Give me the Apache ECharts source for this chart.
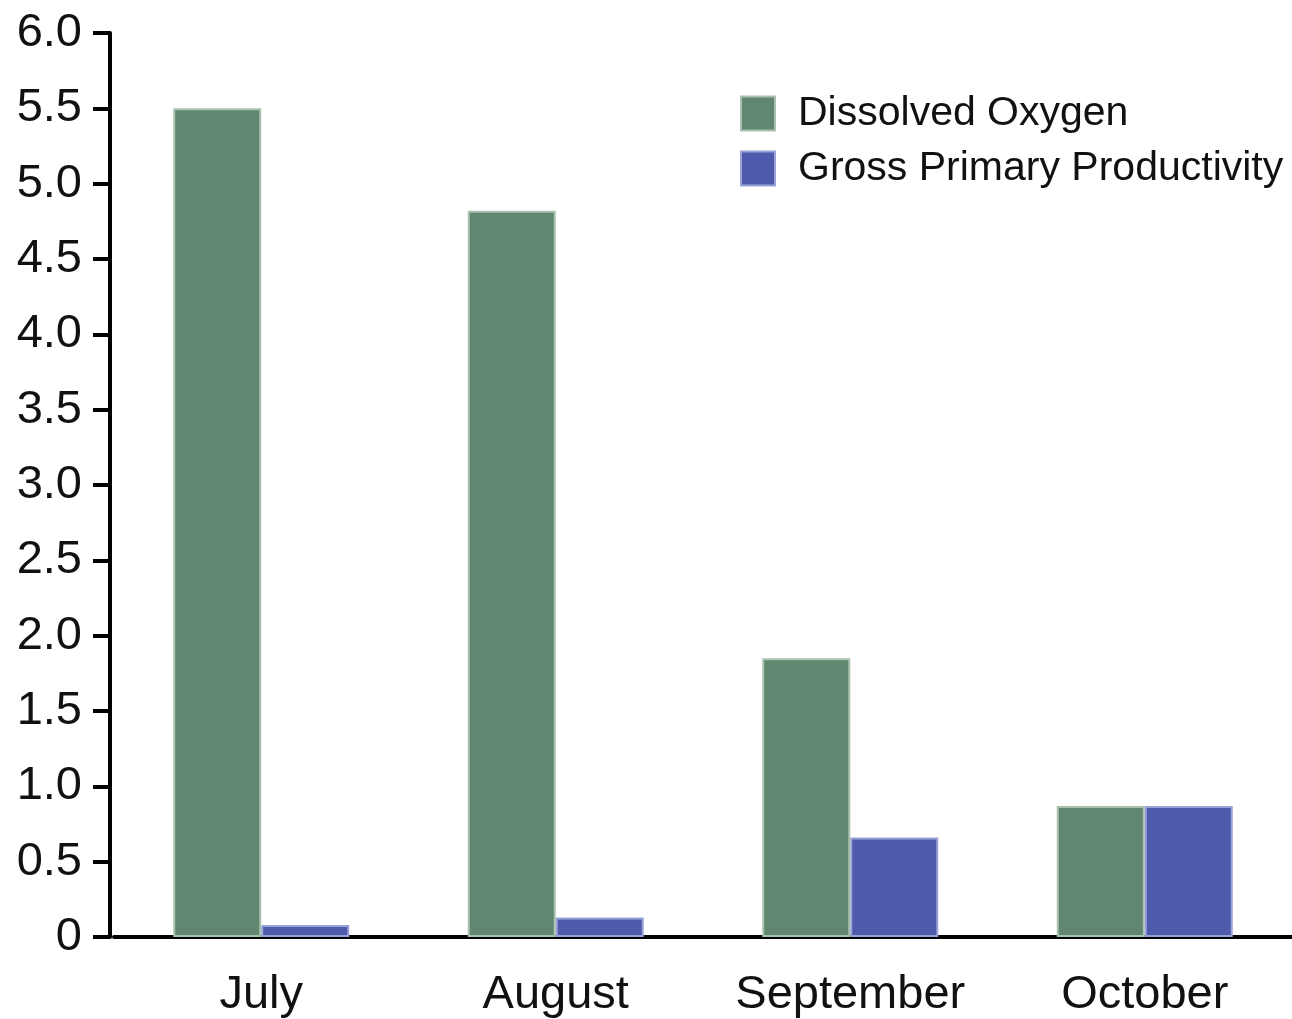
<!DOCTYPE html>
<html><head><meta charset="utf-8">
<script src="https://cdn.jsdelivr.net/npm/echarts@6/dist/echarts.min.js"></script>
<style>html,body{margin:0;padding:0;background:#fff}#c{width:1292px;height:1019px}</style>
</head><body><div id="c"></div>
<script>
const categories = ['July', 'August', 'September', 'October'];
const dissolvedOxygen = [5.5, 4.82, 1.85, 0.87];
const grossPrimaryProductivity = [0.08, 0.13, 0.66, 0.87];
const seriesNames = ['Dissolved Oxygen', 'Gross Primary Productivity'];

const chart = echarts.init(document.getElementById('c'));
const font = 'Liberation Sans, Arial, sans-serif';
chart.setOption({
  animation: false,
  backgroundColor: '#fff',
  grid: { left: 114, right: -2, top: 33, bottom: 81 },
  legend: {
    orient: 'vertical', left: 740, top: 93, padding: 0,
    icon: 'rect',
    itemWidth: 34, itemHeight: 34, itemGap: 14,
    textStyle: { fontFamily: font, fontSize: 41, color: '#111', padding: [0,0,0,18] },
    data: seriesNames
  },
  xAxis: {
    type: 'category', data: categories,
    axisLine: { lineStyle: { color: '#000', width: 4 } },
    axisTick: { interval: 0, length: 17, lineStyle: { color: '#000', width: 3 } },
    axisLabel: { interval: 0, fontFamily: font, fontSize: 47, color: '#111', margin: 35 }
  },
  yAxis: {
    type: 'value', min: 0, max: 6, interval: 0.5, offset: 4,
    splitLine: { show: false },
    axisLine: { show: true, lineStyle: { color: '#000', width: 4 } },
    axisTick: { show: true, length: 17, lineStyle: { color: '#000', width: 4 } },
    axisLabel: { fontFamily: font, fontSize: 47, color: '#111', margin: 28,
      formatter: v => v === 0 ? '0' : v.toFixed(1) }
  },
  series: [
    { name: seriesNames[0], type: 'bar', data: dissolvedOxygen, barWidth: 88, barGap: '0%',
      itemStyle: { color: '#628770', borderColor: '#a9c2b0', borderWidth: 2 } },
    { name: seriesNames[1], type: 'bar', data: grossPrimaryProductivity, barWidth: 88,
      itemStyle: { color: '#4e5aab', borderColor: '#9aa3d8', borderWidth: 2 } }
  ]
});
</script></body></html>
